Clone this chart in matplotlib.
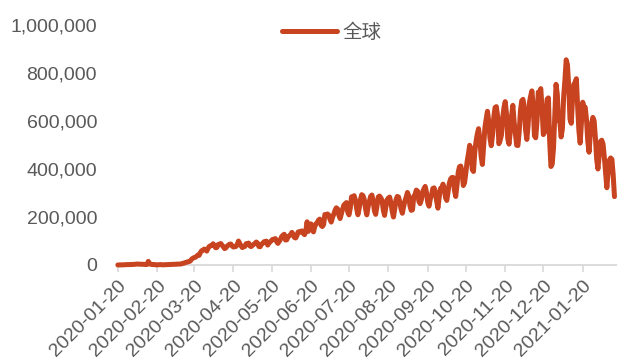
import pandas as pd
import matplotlib
matplotlib.use('Agg')
import matplotlib.pyplot as plt
import matplotlib.ticker as mticker

plt.rcParams['font.family'] = ['Liberation Sans', 'Noto Sans CJK SC', 'DejaVu Sans']

# daily new cases worldwide, thousands, starting 2020-01-20 (one row = one week)
start_date = '2020-01-20'
q1 = [
    0.1, 0.2, 0.3, 0.6, 0.7, 0.8, 1.3,
    1.8, 1.5, 1.7, 2.0, 1.7, 2.1, 2.6,
    3.2, 3.9, 3.7, 3.2, 3.4, 2.7, 2.6,
    2.5, 2.0, 2.1, 15.2, 5.1, 2.7, 2.1,
    2.0, 1.9, 0.6, 0.8, 1.0, 1.0, 1.6,
    0.7, 0.9, 1.0, 1.1, 1.4, 1.8, 1.9,
    2.0, 2.3, 2.5, 2.9, 3.2, 3.9, 3.7,
    4.1, 4.5, 6.8, 7.4, 10.1, 10.9, 13.6,
    14.0, 16.6, 23.5, 28.0, 30.7, 31.9, 36.6,
    41.3, 40.4, 51.7, 59.6, 61.7, 66.2, 63.7,
]
q2 = [
    57.9, 69.5, 77.4, 80.3, 80.9, 88.4, 80.1,
    71.9, 73.1, 85.4, 86.2, 89.5, 83.2, 76.4,
    68.4, 70.9, 78.5, 82.8, 86.8, 87.3, 79.1,
    74.9, 76.2, 77.3, 86.0, 99.8, 89.8, 79.9,
    72.6, 75.6, 77.3, 88.8, 88.0, 91.4, 79.1,
    76.8, 82.2, 86.3, 90.0, 95.7, 91.0, 77.1,
    76.1, 86.1, 89.8, 96.5, 98.4, 99.3, 83.0,
    91.5, 96.7, 102.3, 107.0, 106.4, 110.1, 97.5,
    90.0, 98.5, 106.2, 118.5, 124.0, 128.0, 104.2,
    104.8, 118.6, 121.6, 126.2, 135.8, 128.7, 114.9,
    112.6, 122.3, 138.0, 136.0, 140.1, 141.9, 131.5,
    126.5, 142.3, 180.0, 140.2, 152.6, 171.5, 160.3,
    138.0, 159.4, 172.0, 176.0, 187.5, 191.2, 165.2,
]
q3 = [
    160.2, 168.5, 210.4, 206.7, 212.7, 208.6, 190.7,
    178.8, 198.1, 211.5, 227.6, 238.4, 233.8, 207.5,
    193.7, 213.6, 233.4, 250.1, 255.3, 260.1, 220.7,
    209.0, 236.7, 284.0, 282.5, 288.8, 272.1, 235.0,
    209.5, 235.6, 271.4, 293.0, 289.1, 273.5, 235.1,
    209.0, 241.2, 264.7, 285.5, 291.6, 266.6, 226.2,
    211.0, 245.0, 283.6, 287.3, 280.4, 269.6, 228.4,
    206.8, 241.5, 271.7, 279.1, 282.9, 259.5, 223.8,
    199.9, 233.3, 271.4, 285.7, 283.2, 261.9, 232.7,
    215.7, 243.6, 266.9, 282.5, 302.2, 288.1, 245.8,
    227.6, 229.9, 285.8, 293.5, 312.1, 307.7, 265.4,
    255.7, 272.3, 304.6, 318.1, 327.5, 302.5, 260.4,
    245.1, 274.4, 291.6, 318.9, 321.4, 304.4, 266.4,
]
q4 = [
    236.7, 281.7, 318.4, 321.3, 336.9, 320.3, 280.2,
    269.1, 305.5, 341.2, 358.8, 364.6, 364.8, 312.0,
    285.5, 331.1, 386.6, 409.5, 412.4, 387.4, 331.2,
    342.9, 385.0, 431.4, 462.4, 498.8, 485.1, 397.7,
    389.8, 468.8, 514.9, 545.6, 568.0, 525.7, 453.5,
    418.9, 496.0, 572.8, 608.3, 640.6, 600.1, 527.6,
    497.2, 541.0, 615.6, 656.3, 660.0, 620.2, 505.5,
    519.1, 541.0, 612.5, 656.0, 680.8, 629.4, 525.2,
    503.8, 556.9, 621.4, 665.4, 596.5, 549.3, 499.0,
    497.8, 554.7, 643.8, 684.8, 690.2, 653.4, 563.8,
    523.2, 580.8, 675.4, 703.8, 725.6, 665.1, 537.9,
    530.0, 596.5, 720.4, 716.9, 735.0, 651.3, 543.6,
    552.9, 612.6, 691.0, 696.4, 513.6, 410.4, 420.8,
]
q5 = [
    487.4, 614.9, 752.9, 711.8, 600.5, 600.0, 533.6,
    567.2, 700.9, 771.4, 855.2, 834.3, 742.3, 607.7,
    590.4, 694.4, 753.6, 760.0, 776.4, 661.3, 559.8,
    507.8, 595.1, 678.4, 657.6, 657.0, 605.3, 514.9,
    470.0, 545.0, 590.0, 615.0, 600.0, 530.0, 440.0,
    400.0, 460.0, 515.0, 520.0, 505.0, 450.0, 385.0,
    321.9, 385.1, 436.8, 446.0, 440.0, 375.0, 285.0,
]
tick_labels = ['2020-01-20', '2020-02-20', '2020-03-20', '2020-04-20', '2020-05-20',
               '2020-06-20', '2020-07-20', '2020-08-20', '2020-09-20', '2020-10-20',
               '2020-11-20', '2020-12-20', '2021-01-20']
series_name = '全球'

values = pd.Series(q1 + q2 + q3 + q4 + q5) * 1000
dates = pd.date_range(start_date, periods=len(values), freq='D')

line_color = '#C8431F'
text_color = '#595959'
axis_color = '#D9D9D9'

fig = plt.figure(figsize=(6.17, 3.63), dpi=100)
ax = fig.add_axes([0.191, 0.270, 0.809, 0.661])
ax.plot(dates, values, color=line_color, lw=3.6, solid_joinstyle='round',
        solid_capstyle='round', label=series_name, zorder=3, clip_on=False)

ax.set_ylim(0, 1_000_000)
ax.set_xlim(pd.Timestamp(start_date), pd.Timestamp('2021-02-16'))
ax.yaxis.set_major_locator(mticker.MultipleLocator(200_000))
ax.yaxis.set_major_formatter(mticker.FuncFormatter(lambda v, p: f'{v:,.0f}'))

ax.set_xticks(pd.to_datetime(tick_labels))
ax.set_xticklabels(tick_labels, rotation=45, ha='right', rotation_mode='anchor')

for side in ['top', 'right', 'left']:
    ax.spines[side].set_visible(False)
ax.spines['bottom'].set_color(axis_color)
ax.spines['bottom'].set_linewidth(1.3)

ax.tick_params(axis='y', length=0, pad=15, labelsize=14, labelcolor=text_color)
ax.tick_params(axis='x', length=5, width=1.2, color=axis_color, pad=4,
               labelsize=14, labelcolor=text_color)

fig.legend(loc='center', bbox_to_anchor=(0.538, 0.909), frameon=False,
           fontsize=14, handlelength=2.8, handletextpad=0.3, labelcolor=text_color)

fig.savefig('out.png', dpi=100)
